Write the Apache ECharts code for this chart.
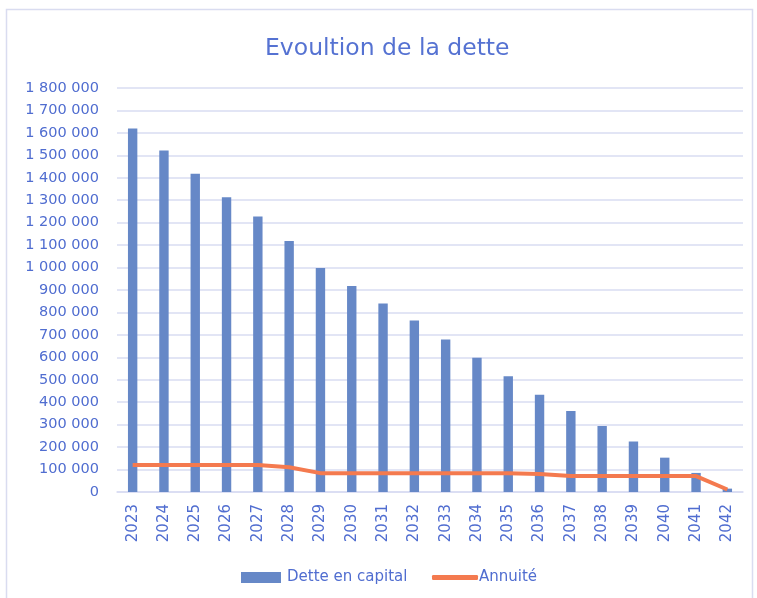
<!DOCTYPE html>
<html>
<head>
<meta charset="utf-8">
<script src="https://cdn.jsdelivr.net/npm/echarts@6/dist/echarts.min.js"></script>
<style>
html,body{margin:0;padding:0;background:#fff;}
#main{width:757px;height:598px;}
</style>
</head>
<body>
<div id="main"></div>
<script>
const categories = ['2023','2024','2025','2026','2027','2028','2029','2030','2031','2032','2033','2034','2035','2036','2037','2038','2039','2040','2041','2042'];
const detteCapital = [1619000,1521000,1418000,1313000,1227000,1118000,998000,918000,840000,764000,680000,598000,516000,433000,361000,294000,225000,153000,85000,15000];
const annuite = [120000,120000,120000,120000,120000,110000,84000,84000,84000,84000,84000,84000,84000,80000,71000,71000,71000,71000,71000,11000];
const yTicks = {min:0, max:1800000, interval:100000};

const FONT = 'DejaVu Sans';
const TXT = '#506dd0';
const chart = echarts.init(document.getElementById('main'));
function fmt(v){ return String(v).replace(/\B(?=(\d{3})+(?!\d))/g,' '); }
chart.setOption({
  animation:false,
  textStyle:{fontFamily:FONT},
  graphic:[{type:'rect',shape:{x:6.5,y:9.5,width:746,height:600},style:{fill:'none',stroke:'#d9dcf0',lineWidth:1.5}}],
  title:{text:'Evoultion de la dette',left:265,top:37,padding:0,textStyle:{fontFamily:FONT,fontSize:23.5,fontWeight:'normal',color:'#5572d2'}},
  grid:{left:117,right:14,top:88,bottom:106,containLabel:false},
  legend:[
    {left:241,top:570,padding:0,itemWidth:40,itemHeight:11,
     textStyle:{fontFamily:FONT,fontSize:15,color:TXT,padding:[0,0,0,1]},
     data:[{name:'Dette en capital',icon:'rect'}]},
    {left:432,top:570,padding:0,itemWidth:46,itemHeight:5,
     textStyle:{fontFamily:FONT,fontSize:15,color:TXT,padding:[0,0,0,-4]},
     data:[{name:'Annuité',icon:'roundRect'}]}
  ],
  xAxis:{type:'category',data:categories,
    axisLine:{lineStyle:{color:'#d9dcf2',width:1.5}},axisTick:{show:false},
    axisLabel:{rotate:90,fontFamily:FONT,fontSize:15,color:TXT,margin:12}},
  yAxis:{type:'value',min:yTicks.min,max:yTicks.max,interval:yTicks.interval,
    axisLine:{show:false},axisTick:{show:false},
    splitLine:{lineStyle:{color:'#d9dcf2',width:1.5}},
    axisLabel:{fontFamily:FONT,fontSize:14.5,color:TXT,margin:18,formatter:fmt}},
  series:[
    {name:'Dette en capital',type:'bar',data:detteCapital,barWidth:'30%',itemStyle:{color:'#6688c7'}},
    {name:'Annuité',type:'line',data:annuite,symbol:'none',lineStyle:{color:'#f47a4f',width:4},itemStyle:{color:'#f47a4f'}}
  ]
});
</script>
</body>
</html>
